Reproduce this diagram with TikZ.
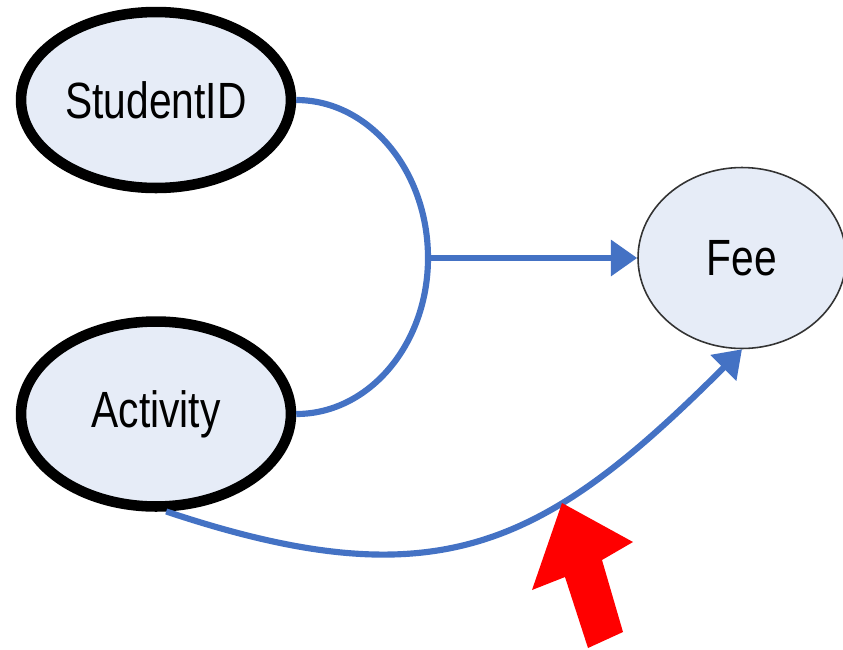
\documentclass[tikz,border=0pt]{standalone}
\usepackage{fontspec}
\setmainfont{Liberation Sans}
\usepackage{graphicx}
\usetikzlibrary{shapes.geometric,arrows.meta}
\definecolor{nodefill}{HTML}{E6ECF7}
\definecolor{linkblue}{HTML}{4472C4}
\newcommand{\narrowtext}[1]{\scalebox{0.8}[1]{#1}}
\begin{document}
\begin{tikzpicture}[x=0.02cm,y=-0.02cm,
  attr/.style={ellipse, fill=nodefill, inner sep=0pt, font=\fontsize{29}{34}\selectfont},
  keyattr/.style={attr, draw=black, line width=6pt},
  depattr/.style={attr, draw=black!80, line width=0.9pt},
  link/.style={draw=linkblue, line width=3.5pt},
  tip/.style={-{Triangle[length=15pt,width=20pt]}}]
\useasboundingbox (0,0) rectangle (843,650);

% attributes
\node[keyattr, minimum width=5.4cm, minimum height=3.52cm] (s) at (156,100) {\narrowtext{StudentID}};
\node[keyattr, minimum width=5.4cm, minimum height=3.7cm] (a) at (156,414) {\narrowtext{Activity}};
\node[depattr, minimum width=4.16cm, minimum height=3.62cm] (f) at (742,258) {\narrowtext{Fee}};

% composite determinant: both keys together determine Fee
\coordinate (j) at (428,258);
\draw[link] (s.east) .. controls +(73,0) and +(0,-87) .. (j)
            .. controls +(0,86) and +(73,0) .. (a.east);
\draw[link, tip] (j) -- (f.west);

% partial dependency: Activity alone determines Fee
\draw[link, tip] (a.-84) .. controls +(270,90) and +(-200,200) .. (f.south);

% red pointer
\fill[red] (562,503) -- (633,542) -- (602,560) -- (623,632) -- (588,648)
  -- (565,577) -- (532,590) -- cycle;
\end{tikzpicture}
\end{document}
